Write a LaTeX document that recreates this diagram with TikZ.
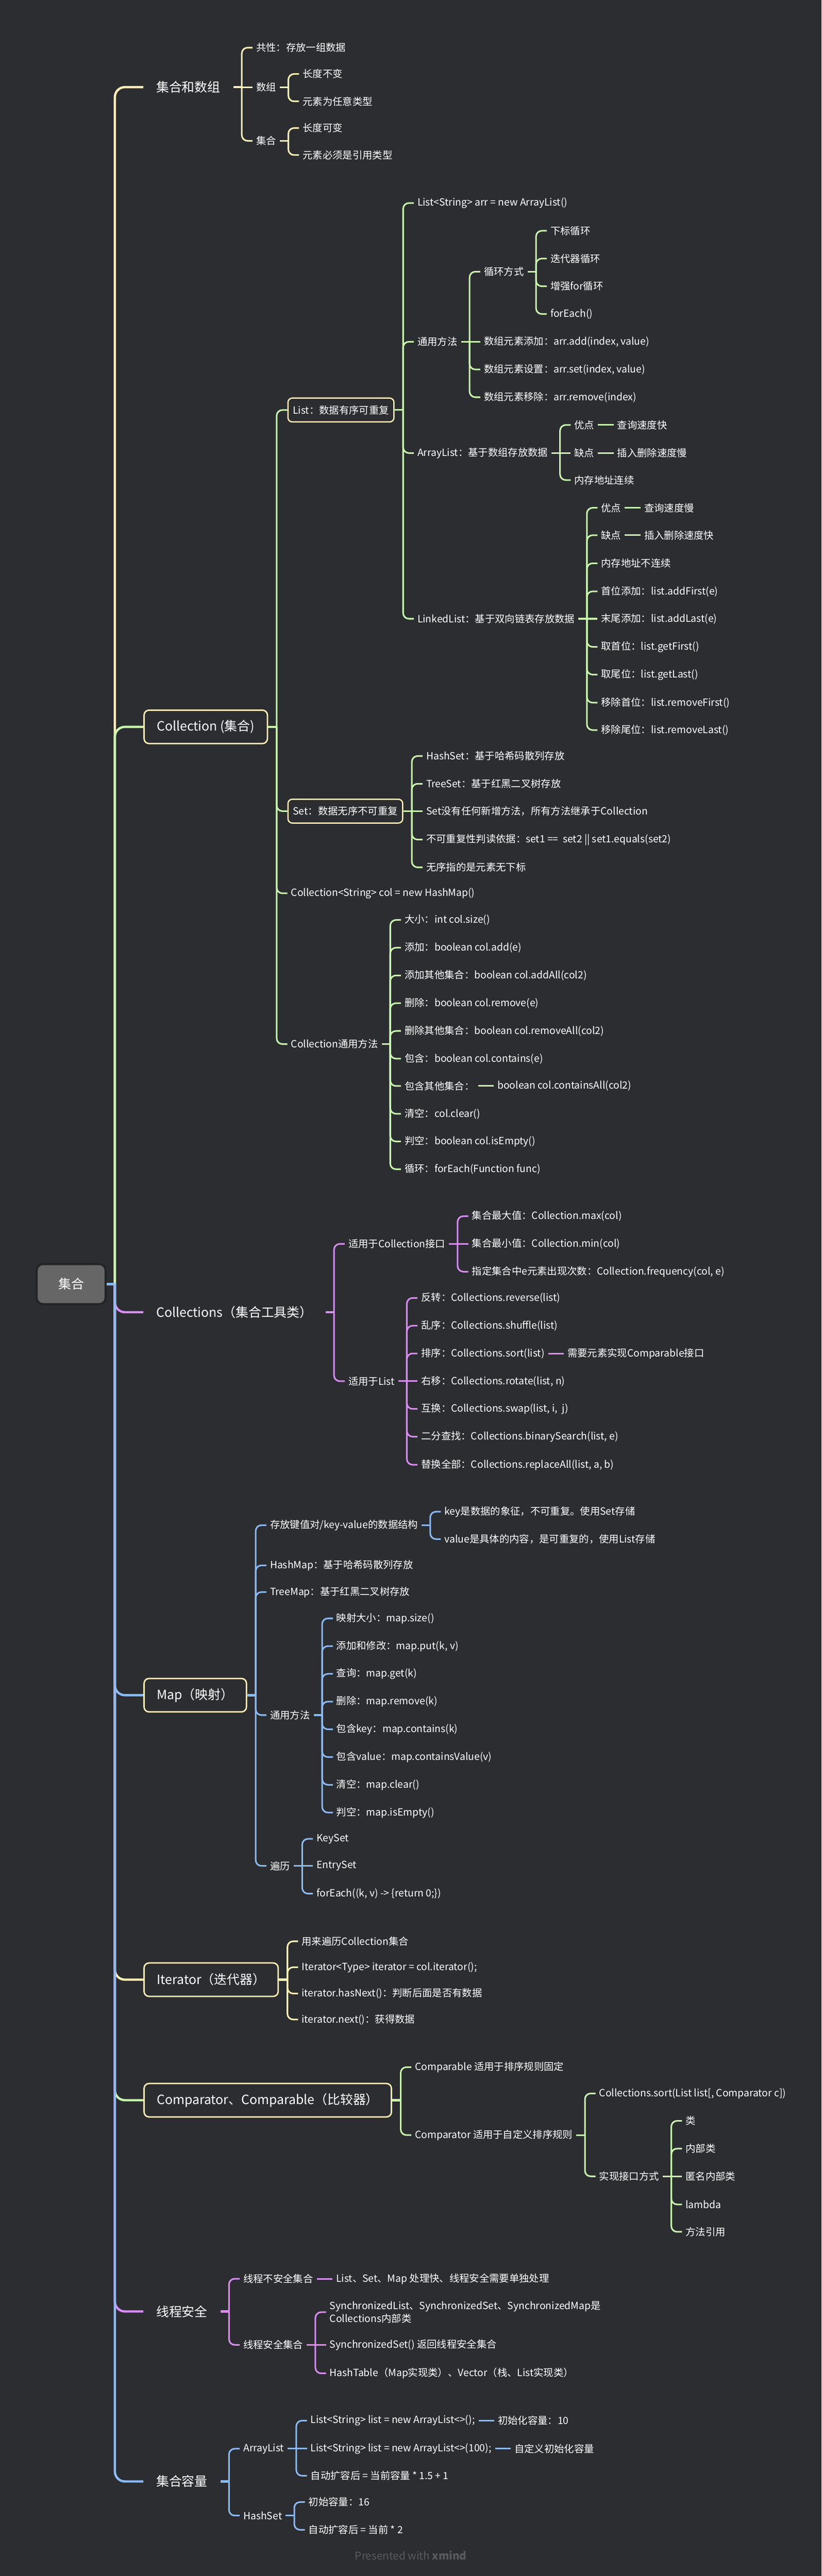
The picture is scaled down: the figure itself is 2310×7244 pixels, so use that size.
\documentclass[tikz,border=0pt]{standalone}
\usepackage{fontspec}
\setmainfont{Noto Sans CJK SC}
\usepackage{xcolor}
\usetikzlibrary{positioning}

\definecolor{bg}{HTML}{2C2D31}
\definecolor{yl}{HTML}{FFEEB3}
\definecolor{gn}{HTML}{C8F7AC}
\definecolor{pu}{HTML}{DC8CF8}
\definecolor{bl}{HTML}{8ABBF8}
\definecolor{rootgray}{HTML}{666666}
\definecolor{ring}{HTML}{232427}
\definecolor{foot}{HTML}{5B5B5E}

\begin{document}
\begin{tikzpicture}[x=0.5pt,y=-0.5pt,
  root/.style={fill=rootgray, draw=ring, line width=3pt, rounded corners=9pt, text=white,
    font=\fontsize{18}{22}\selectfont, minimum width=97pt, minimum height=56.5pt},
  topic/.style={anchor=west, text=white, font=\fontsize{18}{22}\selectfont,
    inner xsep=18pt, minimum height=47pt},
  topicbox/.style={topic, draw=yl, fill=bg, line width=2pt, rounded corners=7pt},
  leaf/.style={anchor=west, text=white, font=\fontsize{14}{18}\selectfont,
    inner xsep=5pt, inner ysep=2pt},
  leafbox/.style={leaf, draw=yl, fill=bg, line width=1.8pt, rounded corners=6pt,
    inner xsep=7pt, minimum height=33.5pt},
  trunk/.style={line width=3.2pt, rounded corners=14pt},
  twig/.style={line width=2.2pt, rounded corners=8pt}]

  \useasboundingbox[fill=bg] (0,0) rectangle (2310,7244);

  % root and main topics
  \node[root] (root) at (200,3611) {集合};
  \coordinate (rj) at (323,3611);
  \node[topic] (arr) at (403,245) {集合和数组};
  \node[topicbox] (col) at (403,2044) {Collection (集合)};
  \node[topic] (cols) at (403,3690) {Collections（集合工具类）};
  \node[topicbox] (map) at (403,4767) {Map（映射）};
  \node[topicbox] (iter) at (403,5567) {Iterator（迭代器）};
  \node[topicbox] (cmp) at (403,5906) {Comparator、Comparable（比较器）};
  \node[topic] (safe) at (403,6500) {线程安全};
  \node[topic] (cap) at (403,6978) {集合容量};
  \foreach \n/\c in {arr/yl,col/gn,cols/pu,map/bl,iter/yl,cmp/gn,safe/pu,cap/bl}
    \draw[trunk,\c] (rj) |- (\n.west);
  \draw[trunk,bl] (root.east) -- (rj);

  % 集合和数组
  \path (arr.east) ++(24,0) coordinate (arr-j) ++(30,0) coordinate (arr-c);
  \draw[trunk,yl] (arr.east) -- (arr-j);
  \node[leaf] (arr-gx) at (arr-c |- 0,134) {共性：存放一组数据};
  \node[leaf] (arr-sz) at (arr-c |- 0,245) {数组};
  \node[leaf] (arr-jh) at (arr-c |- 0,396) {集合};
  \draw[twig,yl] (arr-j) |- (arr-gx.west);
  \draw[twig,yl] (arr-j) -- (arr-sz.west);
  \draw[twig,yl] (arr-j) |- (arr-jh.west);
  \path (arr-sz.east) ++(24,0) coordinate (arr-sz-j) ++(30,0) coordinate (arr-sz-c);
  \draw[twig,yl] (arr-sz.east) -- (arr-sz-j);
  \foreach \y/\txt [count=\i] in {208/长度不变,285/元素为任意类型} {
    \node[leaf] (arr-sz-\i) at (arr-sz-c |- 0,\y) {\txt};
    \draw[twig,yl] (arr-sz-j) |- (arr-sz-\i.west);
  }
  \path (arr-jh.east) ++(24,0) coordinate (arr-jh-j) ++(30,0) coordinate (arr-jh-c);
  \draw[twig,yl] (arr-jh.east) -- (arr-jh-j);
  \foreach \y/\txt [count=\i] in {360/长度可变,436/元素必须是引用类型} {
    \node[leaf] (arr-jh-\i) at (arr-jh-c |- 0,\y) {\txt};
    \draw[twig,yl] (arr-jh-j) |- (arr-jh-\i.west);
  }

  % Collection
  \path (col.east) ++(24,0) coordinate (col-j) ++(30,0) coordinate (col-c);
  \draw[trunk,gn] (col.east) -- (col-j);
  \node[leafbox] (list) at (col-c |- 0,1153) {List：数据有序可重复};
  \node[leafbox] (set) at (col-c |- 0,2281) {Set：数据无序不可重复};
  \node[leaf] (col-new) at (col-c |- 0,2512) {Collection<String> col = new HashMap()};
  \node[leaf] (col-ty) at (col-c |- 0,2936) {Collection通用方法};
  \foreach \n in {list,set,col-new,col-ty}
    \draw[twig,gn] (col-j) |- (\n.west);

  % List
  \path (list.east) ++(24,0) coordinate (list-j) ++(30,0) coordinate (list-c);
  \draw[twig,gn] (list.east) -- (list-j);
  \node[leaf] (list-new) at (list-c |- 0,571) {List<String> arr = new ArrayList()};
  \node[leaf] (list-ty) at (list-c |- 0,961) {通用方法};
  \node[leaf] (alist) at (list-c |- 0,1274) {ArrayList：基于数组存放数据};
  \node[leaf] (llist) at (list-c |- 0,1740) {LinkedList：基于双向链表存放数据};
  \foreach \n in {list-new,list-ty,alist,llist}
    \draw[twig,gn] (list-j) |- (\n.west);

  % 通用方法
  \path (list-ty.east) ++(24,0) coordinate (list-ty-j) ++(30,0) coordinate (list-ty-c);
  \draw[twig,gn] (list-ty.east) -- (list-ty-j);
  \node[leaf] (loop) at (list-ty-c |- 0,764) {循环方式};
  \node[leaf] (arr-add) at (list-ty-c |- 0,961) {数组元素添加：arr.add(index, value)};
  \draw[twig,gn] (list-ty-j) |- (loop.west);
  \draw[twig,gn] (list-ty-j) -- (arr-add.west);
  \foreach \y/\txt [count=\i] in {1039/{数组元素设置：arr.set(index, value)},1117/{数组元素移除：arr.remove(index)}} {
    \node[leaf] (list-ty-\i) at (list-ty-c |- 0,\y) {\txt};
    \draw[twig,gn] (list-ty-j) |- (list-ty-\i.west);
  }
  \path (loop.east) ++(24,0) coordinate (loop-j) ++(30,0) coordinate (loop-c);
  \draw[twig,gn] (loop.east) -- (loop-j);
  \foreach \y/\txt [count=\i] in {649/下标循环,727/迭代器循环,805/增强for循环,883/forEach()} {
    \node[leaf] (loop-\i) at (loop-c |- 0,\y) {\txt};
    \draw[twig,gn] (loop-j) |- (loop-\i.west);
  }

  % ArrayList
  \path (alist.east) ++(24,0) coordinate (alist-j) ++(30,0) coordinate (alist-c);
  \draw[twig,gn] (alist.east) -- (alist-j);
  \node[leaf] (al-good) at (alist-c |- 0,1195) {优点};
  \node[leaf] (al-bad) at (alist-c |- 0,1274) {缺点};
  \node[leaf] (al-mem) at (alist-c |- 0,1350) {内存地址连续};
  \draw[twig,gn] (alist-j) |- (al-good.west);
  \draw[twig,gn] (alist-j) -- (al-bad.west);
  \draw[twig,gn] (alist-j) |- (al-mem.west);
  \node[leaf, right=22pt of al-good] (al-good-r) {查询速度快};
  \node[leaf, right=22pt of al-bad] (al-bad-r) {插入删除速度慢};
  \draw[twig,gn] (al-good.east) -- (al-good-r.west);
  \draw[twig,gn] (al-bad.east) -- (al-bad-r.west);

  % LinkedList
  \path (llist.east) ++(24,0) coordinate (llist-j) ++(30,0) coordinate (llist-c);
  \draw[twig,gn] (llist.east) -- (llist-j);
  \node[leaf] (ll-good) at (llist-c |- 0,1428) {优点};
  \node[leaf] (ll-bad) at (llist-c |- 0,1505) {缺点};
  \node[leaf] (ll-last) at (llist-c |- 0,1740) {末尾添加：list.addLast(e)};
  \draw[twig,gn] (llist-j) |- (ll-good.west);
  \draw[twig,gn] (llist-j) |- (ll-bad.west);
  \draw[twig,gn] (llist-j) -- (ll-last.west);
  \node[leaf, right=22pt of ll-good] (ll-good-r) {查询速度慢};
  \node[leaf, right=22pt of ll-bad] (ll-bad-r) {插入删除速度快};
  \draw[twig,gn] (ll-good.east) -- (ll-good-r.west);
  \draw[twig,gn] (ll-bad.east) -- (ll-bad-r.west);
  \foreach \y/\txt [count=\i] in {1584/内存地址不连续,1663/首位添加：list.addFirst(e),1819/取首位：list.getFirst(),
      1897/取尾位：list.getLast(),1976/移除首位：list.removeFirst(),2053/移除尾位：list.removeLast()} {
    \node[leaf] (llist-\i) at (llist-c |- 0,\y) {\txt};
    \draw[twig,gn] (llist-j) |- (llist-\i.west);
  }

  % Set
  \path (set.east) ++(24,0) coordinate (set-j) ++(30,0) coordinate (set-c);
  \draw[twig,gn] (set.east) -- (set-j);
  \node[leaf] (set-none) at (set-c |- 0,2281) {Set没有任何新增方法，所有方法继承于Collection};
  \draw[twig,gn] (set-j) -- (set-none.west);
  \foreach \y/\txt [count=\i] in {2126/HashSet：基于哈希码散列存放,2204/TreeSet：基于红黑二叉树存放,
      2361/{不可重复性判读依据：set1 ==\ \ set2 || set1.equals(set2)},2439/无序指的是元素无下标} {
    \node[leaf] (set-\i) at (set-c |- 0,\y) {\txt};
    \draw[twig,gn] (set-j) |- (set-\i.west);
  }

  % Collection通用方法
  \path (col-ty.east) ++(24,0) coordinate (col-ty-j) ++(30,0) coordinate (col-ty-c);
  \draw[twig,gn] (col-ty.east) -- (col-ty-j);
  \foreach \y/\txt [count=\i] in {2587/大小：int col.size(),2665/添加：boolean col.add(e),
      2743/添加其他集合：boolean col.addAll(col2),2821/删除：boolean col.remove(e),
      2899/删除其他集合：boolean col.removeAll(col2),2977/包含：boolean col.contains(e),
      3054/包含其他集合：,3132/清空：col.clear(),3210/判空：boolean col.isEmpty(),
      3288/循环：forEach(Function func)} {
    \node[leaf] (col-ty-\i) at (col-ty-c |- 0,\y) {\txt};
    \draw[twig,gn] (col-ty-j) |- (col-ty-\i.west);
  }
  \node[leaf, right=22pt of col-ty-7] (col-ty-7r) {boolean col.containsAll(col2)};
  \draw[twig,gn] (col-ty-7.east) -- (col-ty-7r.west);

  % Collections
  \path (cols.east) ++(24,0) coordinate (cols-j) ++(30,0) coordinate (cols-c);
  \draw[trunk,pu] (cols.east) -- (cols-j);
  \node[leaf] (cols-c1) at (cols-c |- 0,3498) {适用于Collection接口};
  \node[leaf] (cols-l) at (cols-c |- 0,3884) {适用于List};
  \draw[twig,pu] (cols-j) |- (cols-c1.west);
  \draw[twig,pu] (cols-j) |- (cols-l.west);
  \path (cols-c1.east) ++(24,0) coordinate (cols-c1-j) ++(30,0) coordinate (cols-c1-c);
  \draw[twig,pu] (cols-c1.east) -- (cols-c1-j);
  \node[leaf] (cols-min) at (cols-c1-c |- 0,3498) {集合最小值：Collection.min(col)};
  \draw[twig,pu] (cols-c1-j) -- (cols-min.west);
  \foreach \y/\txt [count=\i] in {3420/集合最大值：Collection.max(col),3576/{指定集合中e元素出现次数：Collection.frequency(col, e)}} {
    \node[leaf] (cols-c1-\i) at (cols-c1-c |- 0,\y) {\txt};
    \draw[twig,pu] (cols-c1-j) |- (cols-c1-\i.west);
  }
  \path (cols-l.east) ++(24,0) coordinate (cols-l-j) ++(30,0) coordinate (cols-l-c);
  \draw[twig,pu] (cols-l.east) -- (cols-l-j);
  \node[leaf] (cols-rot) at (cols-l-c |- 0,3884) {右移：Collections.rotate(list, n)};
  \draw[twig,pu] (cols-l-j) -- (cols-rot.west);
  \foreach \y/\txt [count=\i] in {3650/反转：Collections.reverse(list),3728/乱序：Collections.shuffle(list),
      3806/排序：Collections.sort(list),3962/{互换：Collections.swap(list, i,\ \ j)},
      4040/{二分查找：Collections.binarySearch(list, e)},4119/{替换全部：Collections.replaceAll(list, a, b)}} {
    \node[leaf] (cols-l-\i) at (cols-l-c |- 0,\y) {\txt};
    \draw[twig,pu] (cols-l-j) |- (cols-l-\i.west);
  }
  \node[leaf, right=22pt of cols-l-3] (cols-l-3r) {需要元素实现Comparable接口};
  \draw[twig,pu] (cols-l-3.east) -- (cols-l-3r.west);

  % Map
  \path (map.east) ++(24,0) coordinate (map-j) ++(30,0) coordinate (map-c);
  \draw[trunk,bl] (map.east) -- (map-j);
  \node[leaf] (map-kv) at (map-c |- 0,4289) {存放键值对/key-value的数据结构};
  \node[leaf] (map-hash) at (map-c |- 0,4402) {HashMap：基于哈希码散列存放};
  \node[leaf] (map-tree) at (map-c |- 0,4477) {TreeMap：基于红黑二叉树存放};
  \node[leaf] (map-ty) at (map-c |- 0,4823) {通用方法};
  \node[leaf] (map-bl) at (map-c |- 0,5247) {遍历};
  \foreach \n in {map-kv,map-hash,map-tree,map-ty,map-bl}
    \draw[twig,bl] (map-j) |- (\n.west);
  \path (map-kv.east) ++(24,0) coordinate (map-kv-j) ++(30,0) coordinate (map-kv-c);
  \draw[twig,bl] (map-kv.east) -- (map-kv-j);
  \foreach \y/\txt [count=\i] in {4251/key是数据的象征，不可重复。使用Set存储,4328/value是具体的内容，是可重复的，使用List存储} {
    \node[leaf] (map-kv-\i) at (map-kv-c |- 0,\y) {\txt};
    \draw[twig,bl] (map-kv-j) |- (map-kv-\i.west);
  }
  \path (map-ty.east) ++(24,0) coordinate (map-ty-j) ++(30,0) coordinate (map-ty-c);
  \draw[twig,bl] (map-ty.east) -- (map-ty-j);
  \foreach \y/\txt [count=\i] in {4551/映射大小：map.size(),4629/{添加和修改：map.put(k, v)},4707/查询：map.get(k),
      4785/删除：map.remove(k),4863/包含key：map.contains(k),4941/包含value：map.containsValue(v),
      5019/清空：map.clear(),5097/判空：map.isEmpty()} {
    \node[leaf] (map-ty-\i) at (map-ty-c |- 0,\y) {\txt};
    \draw[twig,bl] (map-ty-j) |- (map-ty-\i.west);
  }
  \path (map-bl.east) ++(24,0) coordinate (map-bl-j) ++(30,0) coordinate (map-bl-c);
  \draw[twig,bl] (map-bl.east) -- (map-bl-j);
  \node[leaf] (map-entry) at (map-bl-c |- 0,5247) {EntrySet};
  \draw[twig,bl] (map-bl-j) -- (map-entry.west);
  \foreach \y/\txt [count=\i] in {5171/KeySet,5325/{forEach((k, v) -> \{return 0;\})}} {
    \node[leaf] (map-bl-\i) at (map-bl-c |- 0,\y) {\txt};
    \draw[twig,bl] (map-bl-j) |- (map-bl-\i.west);
  }

  % Iterator
  \path (iter.east) ++(24,0) coordinate (iter-j) ++(30,0) coordinate (iter-c);
  \draw[trunk,yl] (iter.east) -- (iter-j);
  \foreach \y/\txt [count=\i] in {5459/用来遍历Collection集合,5532/Iterator<Type> iterator = col.iterator();,
      5606/iterator.hasNext()：判断后面是否有数据,5679/iterator.next()：获得数据} {
    \node[leaf] (iter-\i) at (iter-c |- 0,\y) {\txt};
    \draw[twig,yl] (iter-j) |- (iter-\i.west);
  }

  % Comparator
  \path (cmp.east) ++(24,0) coordinate (cmp-j) ++(30,0) coordinate (cmp-c);
  \draw[trunk,gn] (cmp.east) -- (cmp-j);
  \node[leaf] (cmp-able) at (cmp-c |- 0,5813) {Comparable 适用于排序规则固定};
  \node[leaf] (cmp-tor) at (cmp-c |- 0,6004) {Comparator 适用于自定义排序规则};
  \draw[twig,gn] (cmp-j) |- (cmp-able.west);
  \draw[twig,gn] (cmp-j) |- (cmp-tor.west);
  \path (cmp-tor.east) ++(24,0) coordinate (cmp-tor-j) ++(30,0) coordinate (cmp-tor-c);
  \draw[twig,gn] (cmp-tor.east) -- (cmp-tor-j);
  \node[leaf] (cmp-sort) at (cmp-tor-c |- 0,5887) {Collections.sort(List list[, Comparator c])};
  \node[leaf] (cmp-impl) at (cmp-tor-c |- 0,6120) {实现接口方式};
  \draw[twig,gn] (cmp-tor-j) |- (cmp-sort.west);
  \draw[twig,gn] (cmp-tor-j) |- (cmp-impl.west);
  \path (cmp-impl.east) ++(24,0) coordinate (cmp-impl-j) ++(30,0) coordinate (cmp-impl-c);
  \draw[twig,gn] (cmp-impl.east) -- (cmp-impl-j);
  \node[leaf] (cmp-anon) at (cmp-impl-c |- 0,6120) {匿名内部类};
  \draw[twig,gn] (cmp-impl-j) -- (cmp-anon.west);
  \foreach \y/\txt [count=\i] in {5964/类,6042/内部类,6199/lambda,6276/方法引用} {
    \node[leaf] (cmp-impl-\i) at (cmp-impl-c |- 0,\y) {\txt};
    \draw[twig,gn] (cmp-impl-j) |- (cmp-impl-\i.west);
  }

  % 线程安全
  \path (safe.east) ++(24,0) coordinate (safe-j) ++(30,0) coordinate (safe-c);
  \draw[trunk,pu] (safe.east) -- (safe-j);
  \node[leaf] (safe-no) at (safe-c |- 0,6408) {线程不安全集合};
  \node[leaf] (safe-yes) at (safe-c |- 0,6594) {线程安全集合};
  \draw[twig,pu] (safe-j) |- (safe-no.west);
  \draw[twig,pu] (safe-j) |- (safe-yes.west);
  \node[leaf, right=22pt of safe-no] (safe-no-r) {List、Set、Map 处理快、线程安全需要单独处理};
  \draw[twig,pu] (safe-no.east) -- (safe-no-r.west);
  \path (safe-yes.east) ++(24,0) coordinate (safe-yes-j) ++(30,0) coordinate (safe-yes-c);
  \draw[twig,pu] (safe-yes.east) -- (safe-yes-j);
  \node[leaf, align=left] (safe-sync) at (safe-yes-c |- 0,6502) {SynchronizedList、SynchronizedSet、SynchronizedMap是\\Collections内部类};
  \node[leaf] (safe-set) at (safe-yes-c |- 0,6594) {SynchronizedSet() 返回线程安全集合};
  \node[leaf] (safe-old) at (safe-yes-c |- 0,6674) {HashTable（Map实现类）、Vector（栈、List实现类）};
  \draw[twig,pu] (safe-yes-j) |- (safe-sync.west);
  \draw[twig,pu] (safe-yes-j) -- (safe-set.west);
  \draw[twig,pu] (safe-yes-j) |- (safe-old.west);

  % 集合容量
  \path (cap.east) ++(24,0) coordinate (cap-j) ++(30,0) coordinate (cap-c);
  \draw[trunk,bl] (cap.east) -- (cap-j);
  \node[leaf] (cap-al) at (cap-c |- 0,6886) {ArrayList};
  \node[leaf] (cap-hs) at (cap-c |- 0,7074) {HashSet};
  \draw[twig,bl] (cap-j) |- (cap-al.west);
  \draw[twig,bl] (cap-j) |- (cap-hs.west);
  \path (cap-al.east) ++(24,0) coordinate (cap-al-j) ++(30,0) coordinate (cap-al-c);
  \draw[twig,bl] (cap-al.east) -- (cap-al-j);
  \node[leaf] (cap-al-1) at (cap-al-c |- 0,6807) {List<String> list = new ArrayList<>();};
  \node[leaf] (cap-al-2) at (cap-al-c |- 0,6886) {List<String> list = new ArrayList<>(100);};
  \node[leaf] (cap-al-3) at (cap-al-c |- 0,6962) {自动扩容后 = 当前容量 * 1.5 + 1};
  \draw[twig,bl] (cap-al-j) |- (cap-al-1.west);
  \draw[twig,bl] (cap-al-j) -- (cap-al-2.west);
  \draw[twig,bl] (cap-al-j) |- (cap-al-3.west);
  \node[leaf, right=22pt of cap-al-1] (cap-al-1r) {初始化容量：10};
  \node[leaf, right=22pt of cap-al-2] (cap-al-2r) {自定义初始化容量};
  \draw[twig,bl] (cap-al-1.east) -- (cap-al-1r.west);
  \draw[twig,bl] (cap-al-2.east) -- (cap-al-2r.west);
  \path (cap-hs.east) ++(24,0) coordinate (cap-hs-j) ++(30,0) coordinate (cap-hs-c);
  \draw[twig,bl] (cap-hs.east) -- (cap-hs-j);
  \foreach \y/\txt [count=\i] in {7036/初始容量：16,7114/自动扩容后 = 当前 * 2} {
    \node[leaf] (cap-hs-\i) at (cap-hs-c |- 0,\y) {\txt};
    \draw[twig,bl] (cap-hs-j) |- (cap-hs-\i.west);
  }

  \node[text=foot, font=\fontsize{15}{18}\selectfont] (foot) at (1155,7186) {Presented with \textbf{xmind}};
\end{tikzpicture}
\end{document}
